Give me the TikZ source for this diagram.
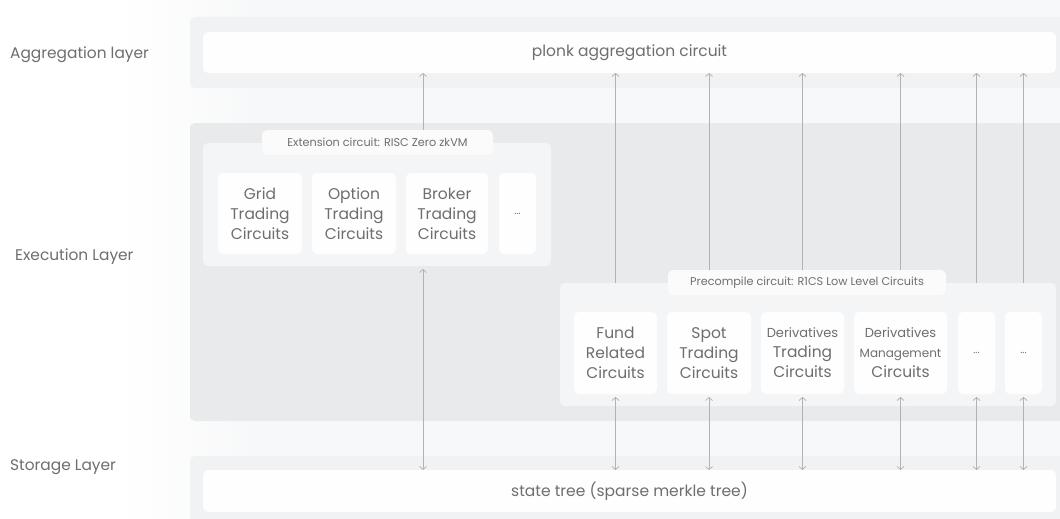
\documentclass[tikz,border=0pt]{standalone}
\usepackage{fontspec}
\setmainfont{Poppins}
\usetikzlibrary{arrows.meta}

\definecolor{bandlight}{HTML}{F1F2F4}
\definecolor{bandexec}{HTML}{E9EAEC}
\definecolor{container}{HTML}{F4F5F6}
\definecolor{tabfill}{HTML}{FBFBFC}
\definecolor{cardfill}{HTML}{FEFEFE}
\definecolor{txt}{HTML}{6E6E6E}
\definecolor{wire}{HTML}{B2B2B2}
\definecolor{canvasbg}{HTML}{F7F8F9}

\tikzset{
  area/.style={anchor=north west, inner sep=0pt, outer sep=0pt, draw=none, rounded corners=5pt},
  band/.style={area, fill=#1},
  card/.style={area, fill=cardfill, text=txt, align=center,
               font=\fontsize{15.5}{20}\selectfont},
  tabbox/.style={area, fill=tabfill, text=txt, font=\fontsize{11.25}{13}\selectfont},
  dotsbox/.style={card, font=\fontsize{10}{12}\selectfont},
  layerlabel/.style={anchor=west, inner sep=0pt, text=txt, font=\fontsize{15.4}{18}\selectfont},
  uplink/.style={draw=wire, line width=0.75pt, -{Straight Barb[length=3pt,width=7pt]}},
  duplex/.style={draw=wire, line width=0.75pt, {Straight Barb[length=3pt,width=7pt]}-{Straight Barb[length=3pt,width=7pt]}, shorten <=3pt}
}

\begin{document}
\begin{tikzpicture}[x=1pt, y=-1pt]
\useasboundingbox (0,0) rectangle (1060,519);

% page background
\fill[white] (0,0) rectangle (1060,519);
\shade[left color=white, right color=canvasbg] (120,0) rectangle (260,519);
\fill[canvasbg] (260,0) rectangle (1060,519);

% layer captions
\node[layerlabel] (lagg)  at (10,55)  {Aggregation layer};
\node[layerlabel] (lexec) at (15,257) {Execution Layer};
\node[layerlabel] (lstor) at (10,467) {Storage Layer};

% aggregation layer
\node[band=bandlight, minimum width=880pt, minimum height=71pt] (aggband) at (190,17) {};
\node[card, minimum width=853pt, minimum height=41pt] (agg) at (203,32) {plonk aggregation circuit};

% execution layer
\node[band=bandexec, minimum width=880pt, minimum height=298pt] (execband) at (190,123) {};

% extension circuit group
\node[band=container, minimum width=348pt, minimum height=123pt] (ext) at (203,143) {};
\node[tabbox, minimum width=231pt, minimum height=25pt] (exttab) at (262,130) {Extension circuit: RISC Zero zkVM};
\node[card, minimum width=84pt, minimum height=81pt] (grid)   at (218,173) {Grid\\Trading\\Circuits};
\node[card, minimum width=84pt, minimum height=81pt] (option) at (312,173) {Option\\Trading\\Circuits};
\node[card, minimum width=82pt, minimum height=81pt] (broker) at (406,173) {Broker\\Trading\\Circuits};
\node[dotsbox, minimum width=37pt, minimum height=81pt] (extmore) at (499,173) {...};

% precompile circuit group
\node[band=container, minimum width=496pt, minimum height=123pt] (pre) at (560,283) {};
\node[tabbox, minimum width=278pt, minimum height=25pt] (pretab) at (668,270) {Precompile circuit: R1CS Low Level Circuits};
\node[card, minimum width=83pt, minimum height=82pt] (fund)  at (574,312) {Fund\\Related\\Circuits};
\node[card, minimum width=84pt, minimum height=82pt] (spot)  at (667,312) {Spot\\Trading\\Circuits};
\node[card, minimum width=83pt, minimum height=82pt] (dtrade) at (761,312)
  {{\fontsize{13}{20}\selectfont Derivatives}\\Trading\\Circuits};
\node[card, minimum width=93pt, minimum height=82pt] (dmgmt) at (854,312)
  {{\fontsize{13}{20}\selectfont Derivatives}\\{\fontsize{12}{20}\selectfont Management}\\Circuits};
\node[dotsbox, minimum width=37pt, minimum height=82pt] (premoreA) at (958,312) {...};
\node[dotsbox, minimum width=37pt, minimum height=82pt] (premoreB) at (1005,312) {...};

% storage layer
\node[band=bandlight, minimum width=880pt, minimum height=70pt] (storband) at (190,456) {};
\node[card, minimum width=853pt, minimum height=42pt] (state) at (203,470) {state tree (sparse merkle tree)};

% port of the extension group
\coordinate (extport) at (423,0);

% proofs up to the aggregation circuit
\draw[uplink] (exttab.north -| extport) -- (agg.south -| extport);
\draw[uplink] (pre.north -| fund)       -- (agg.south -| fund);
\draw[uplink] (pretab.north -| spot)    -- (agg.south -| spot);
\draw[uplink] (pretab.north -| dtrade)  -- (agg.south -| dtrade);
\draw[uplink] (pretab.north -| dmgmt)   -- (agg.south -| dmgmt);
\draw[uplink] (pre.north -| premoreA)   -- (agg.south -| premoreA);
\draw[uplink] (pre.north -| premoreB)   -- (agg.south -| premoreB);

% state access
\draw[duplex] (ext.south -| extport) -- (state.north -| extport);
\draw[duplex] (fund.south)     -- (state.north -| fund);
\draw[duplex] (spot.south)     -- (state.north -| spot);
\draw[duplex] (dtrade.south)   -- (state.north -| dtrade);
\draw[duplex] (dmgmt.south)    -- (state.north -| dmgmt);
\draw[duplex] (premoreA.south) -- (state.north -| premoreA);
\draw[duplex] (premoreB.south) -- (state.north -| premoreB);
\end{tikzpicture}
\end{document}
